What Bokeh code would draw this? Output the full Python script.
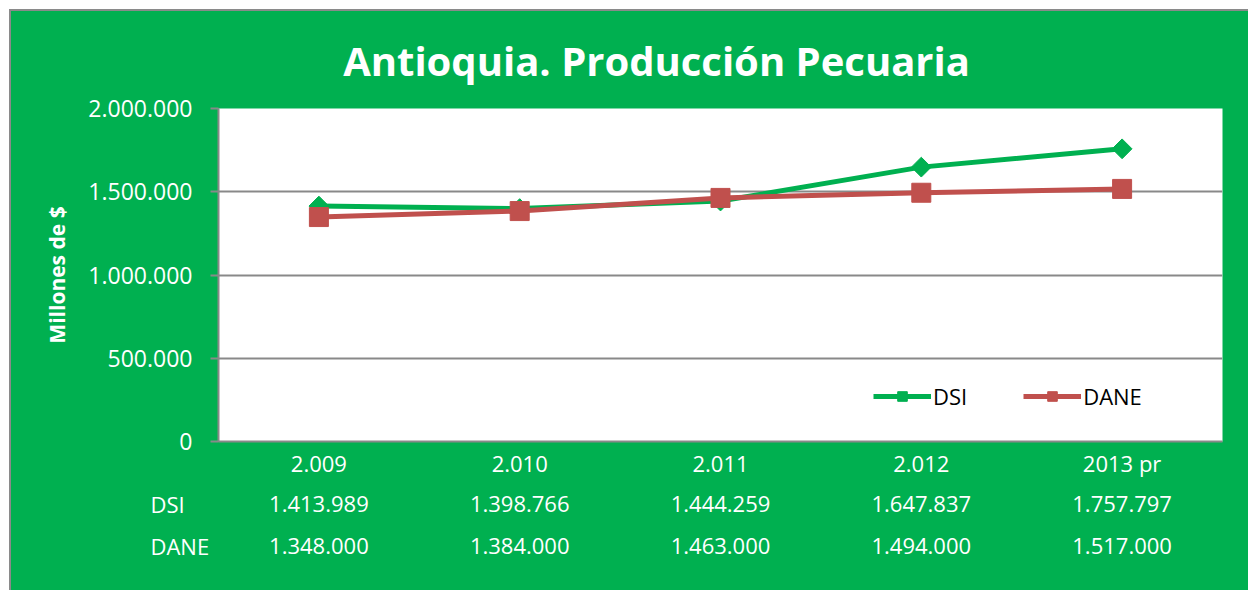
from bokeh.plotting import figure
from bokeh.layouts import column
from bokeh.models import Range1d, FixedTicker, Legend, LegendItem
from bokeh.core.properties import value
from bokeh.embed import file_html
from bokeh.resources import INLINE
import math

categories = ["2.009", "2.010", "2.011", "2.012", "2013 pr"]
dsi = [1413989, 1398766, 1444259, 1647837, 1757797]
dane = [1348000, 1384000, 1463000, 1494000, 1517000]
series_names = ["DSI", "DANE"]
y_ticks = [0, 500000, 1000000, 1500000, 2000000]
title_text = "Antioquia. Producción Pecuaria"
y_label = "Millones de $"

BG = "#00B050"
GREEN = "#00B050"
RED = "#C0504D"
GRID = "#898989"
FONT = "Open Sans"

def fmt(v):
    return f"{v:,}".replace(",", ".")

n = len(categories)
xs = [i + 0.5 for i in range(n)]

# page geometry (pixels)
OX, OY = 11, 11          # where the green box starts
W, H = 1248, 590
FL, FR, FT, FB = 218, 1222, 108, 441   # plot frame
Y1, Y2 = 90, 484                       # figure seams
unit = (FR - FL) / n

def styled_blank(fig):
    fig.frame_align = False
    fig.border_fill_color = BG
    fig.background_fill_color = BG
    fig.outline_line_color = None
    fig.min_border = 0
    fig.min_border_left = 0
    fig.min_border_right = 0
    fig.min_border_top = 0
    fig.min_border_bottom = 0
    fig.xaxis.visible = False
    fig.yaxis.visible = False
    fig.xgrid.visible = False
    fig.ygrid.visible = False

# ---------- title figure ----------
pt = figure(width=W - OX, height=Y1 - OY, output_backend="svg", toolbar_location=None,
            x_range=Range1d(OX, W), y_range=Range1d(Y1, OY))
styled_blank(pt)
pt.text(x=[656], y=[60], text=[title_text], text_color="white",
        text_font=value(FONT), text_font_style="bold", text_font_size="40px",
        text_align="center", text_baseline="middle")

# ---------- main chart ----------
p = figure(width=W - OX, height=Y2 - Y1, output_backend="svg", toolbar_location=None,
           x_range=Range1d(0, n), y_range=Range1d(0, 2000000))
p.frame_align = False
p.min_border_left = FL - OX
p.min_border_right = W - FR
p.min_border_top = FT - Y1
p.min_border_bottom = Y2 - FB
p.border_fill_color = BG
p.background_fill_color = "white"
p.outline_line_color = None

p.xaxis.ticker = FixedTicker(ticks=xs)
p.xaxis.major_label_overrides = {x: c for x, c in zip(xs, categories)}
p.xaxis.major_tick_line_color = None
p.xaxis.minor_tick_line_color = None
p.xaxis.axis_line_color = GRID
p.xaxis.axis_line_width = 2
p.xaxis.major_label_text_color = "white"
p.xaxis.major_label_text_font = FONT
p.xaxis.major_label_text_font_size = "22px"
p.xaxis.major_label_standoff = 0

p.yaxis.ticker = FixedTicker(ticks=y_ticks)
p.yaxis.major_label_overrides = {t: fmt(t) for t in y_ticks}
p.yaxis.minor_tick_line_color = None
p.yaxis.major_tick_line_color = GRID
p.yaxis.major_tick_line_width = 2
p.yaxis.major_tick_out = 8
p.yaxis.major_tick_in = 0
p.yaxis.axis_line_color = GRID
p.yaxis.axis_line_width = 2
p.yaxis.major_label_text_color = "white"
p.yaxis.major_label_text_font = FONT
p.yaxis.major_label_text_font_size = "23px"
p.yaxis.major_label_standoff = 18
p.yaxis.axis_label = y_label
p.yaxis.axis_label_text_color = "white"
p.yaxis.axis_label_text_font = FONT
p.yaxis.axis_label_text_font_style = "bold"
p.yaxis.axis_label_text_font_size = "21px"
p.yaxis.axis_label_standoff = 14

p.xgrid.grid_line_color = None
p.ygrid.grid_line_color = GRID
p.ygrid.grid_line_width = 2

l1 = p.line(xs, dsi, line_color=GREEN, line_width=5)
m1 = p.scatter(xs, dsi, marker="square", angle=math.pi / 4, size=14,
               fill_color=GREEN, line_color=GREEN)
l2 = p.line(xs, dane, line_color=RED, line_width=5)
m2 = p.scatter(xs, dane, marker="square", size=19, fill_color=RED, line_color=RED)

legend = Legend(items=[LegendItem(label=series_names[0], renderers=[l1, m1]),
                       LegendItem(label=series_names[1], renderers=[l2, m2])],
                orientation="horizontal", location=(655, 30),
                background_fill_alpha=0, border_line_color=None,
                label_text_font=FONT, label_text_font_size="22px",
                label_text_color="black", glyph_width=58, glyph_height=24,
                label_standoff=2, spacing=56, padding=0, margin=0)
p.add_layout(legend, "center")

# ---------- data table ----------
ptab = figure(width=W - OX, height=H - Y2, output_backend="svg", toolbar_location=None,
              x_range=Range1d((OX - FL) / unit, (W - FL) / unit),
              y_range=Range1d(H, Y2))
styled_blank(ptab)
row_y = [503, 545]
row_label_x = (150 - FL) / unit
for name, vals, yy in zip(series_names, [dsi, dane], row_y):
    ptab.text(x=[row_label_x], y=[yy], text=[name], text_color="white",
              text_font=value(FONT), text_font_size="22px",
              text_align="left", text_baseline="middle")
    ptab.text(x=xs, y=[yy] * n, text=[fmt(v) for v in vals], text_color="white",
              text_font=value(FONT), text_font_size="22px",
              text_align="center", text_baseline="middle")

layout = column(pt, p, ptab, spacing=0, margin=(OY - 2, 0, 0, OX - 2),
                styles={"border-left": "2px solid #8a8a8a",
                        "border-top": "2px solid #8a8a8a",
                        "background-color": BG})

open("out.html", "w").write(file_html(layout, INLINE))
